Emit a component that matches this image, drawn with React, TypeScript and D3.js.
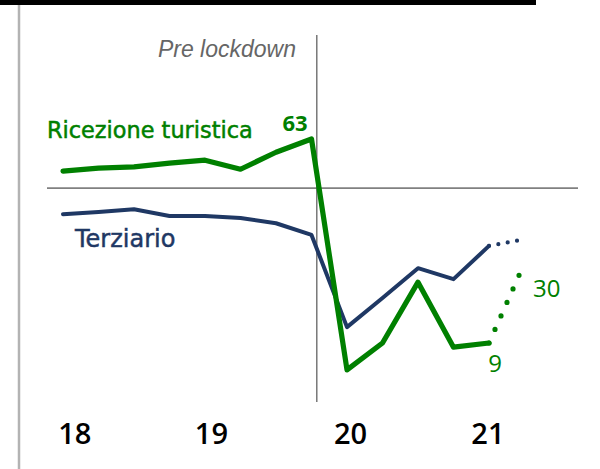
import React from "react";
import * as d3 from "d3";

const periods = [0, 1, 2, 3, 4, 5, 6, 7, 8, 9, 10, 11, 12];
const ricezione = [54.5, 55.3, 55.6, 56.6, 57.4, 55.0, 59.5, 63, 1.9, 9.0, 25.1, 7.9, 9.0];
const terziario = [43.1, 43.7, 44.4, 42.6, 42.6, 42.1, 40.7, 37.6, 13.2, 20.9, 28.8, 25.9, 34.7];
const forecastPeriod = 12.85;
const ricezioneForecast = 27;
const terziarioForecast = 36.2;
const yearLabels = ["18", "19", "20", "21"];
const yearTickPos = [0.33, 4.18, 8.1, 11.97];
const lockdownPos = 7.15;
const baselineValue = 50;

const GREEN = "#008000";
const NAVY = "#1f3864";

export default function App() {
  const x = d3.scaleLinear().domain([0, 12]).range([63, 489]);
  const y = d3.scaleLinear().domain([0, 63]).range([377, 139]);
  const line = d3
    .line<[number, number]>()
    .x((d) => x(d[0]))
    .y((d) => y(d[1]));

  const gPts: [number, number][] = periods.map((p, i) => [p, ricezione[i]]);
  const tPts: [number, number][] = periods.map((p, i) => [p, terziario[i]]);
  const last = periods.length - 1;
  const gFc: [number, number][] = [
    [periods[last], ricezione[last]],
    [forecastPeriod, ricezioneForecast],
  ];
  const tFc: [number, number][] = [
    [periods[last], terziario[last]],
    [forecastPeriod, terziarioForecast],
  ];

  const lx = x(lockdownPos);
  const by = y(baselineValue);

  return (
    <>
      <style>{"body{margin:0}"}</style>
      <svg width={600} height={469} style={{ display: "block", background: "#fff" }}>
        <rect x={0} y={0} width={536} height={5} fill="#000" />
        <line x1={19} x2={19} y1={5} y2={469} stroke="#b3b3b3" strokeWidth={2.5} />
        <line x1={47} x2={578} y1={by} y2={by} stroke="#808080" strokeWidth={1.8} />
        <line x1={lx} x2={lx} y1={35} y2={402} stroke="#555" strokeWidth={1.2} />
        <text
          x={296}
          y={57}
          textAnchor="end"
          fontFamily="'Liberation Sans', Arial, sans-serif"
          fontStyle="italic"
          fontSize={23}
          fill="#666"
        >
          Pre lockdown
        </text>

        <path d={line(tPts) || ""} fill="none" stroke={NAVY} strokeWidth={4} strokeLinejoin="round" strokeLinecap="round" />
        <path d={line(tFc) || ""} fill="none" stroke={NAVY} strokeWidth={4.2} strokeLinecap="round" strokeDasharray="0 9.5" />
        <path d={line(gPts) || ""} fill="none" stroke={GREEN} strokeWidth={5.2} strokeLinejoin="round" strokeLinecap="round" />
        <path d={line(gFc) || ""} fill="none" stroke={GREEN} strokeWidth={5.2} strokeLinecap="round" strokeDasharray="0 14.8" />

        <text x={47} y={138} fontFamily="'DejaVu Sans', sans-serif" fontSize={22.4} fill={GREEN} stroke={GREEN} strokeWidth={0.5}>
          Ricezione turistica
        </text>
        <text x={75} y={247} fontFamily="'DejaVu Sans', sans-serif" fontSize={24} fill={NAVY} stroke={NAVY} strokeWidth={0.5}>
          Terziario
        </text>
        <text x={295} y={131} textAnchor="middle" fontFamily="'Open Sans', sans-serif" fontWeight={700} fontSize={22} fill={GREEN}>
          {ricezione[7]}
        </text>
        <text x={495} y={372} textAnchor="middle" fontFamily="'Open Sans', sans-serif" fontWeight={500} fontSize={24} fill={GREEN}>
          9
        </text>
        <text x={533} y={297} fontFamily="'Open Sans', sans-serif" fontWeight={500} fontSize={24} fill={GREEN}>
          30
        </text>

        {yearLabels.map((l, i) => (
          <text
            key={l}
            x={x(yearTickPos[i])}
            y={444}
            textAnchor="middle"
            fontFamily="'Open Sans', sans-serif"
            fontWeight={600}
            fontSize={29}
            fill="#000"
          >
            {l}
          </text>
        ))}
      </svg>
    </>
  );
}
